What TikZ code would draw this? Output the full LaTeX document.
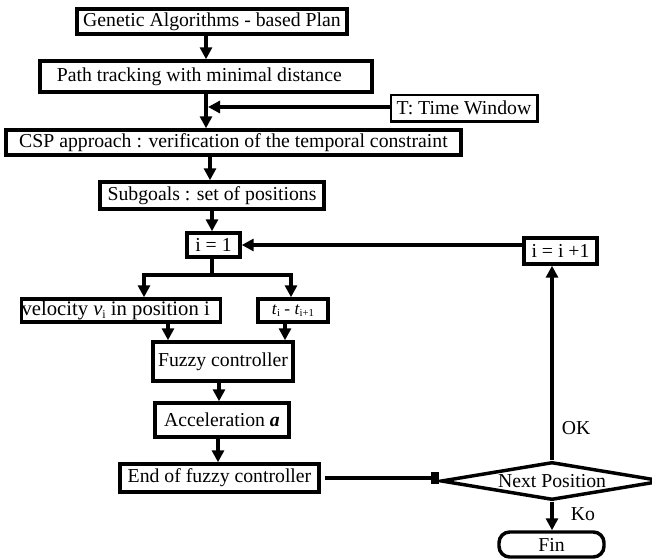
\documentclass[tikz,border=0pt]{standalone}
\usepackage{fontspec}
\setmainfont{Liberation Serif}
\usetikzlibrary{arrows.meta,shapes.geometric}
\begin{document}
\begin{tikzpicture}[x=0.75pt,y=-0.75pt,
  box/.style={draw,line width=2.6pt,inner sep=0pt,align=center,font=\fontsize{14.8}{17}\selectfont},
  arr/.style={line width=2.4pt,-{Triangle[length=9pt,width=9pt]}},
  ln/.style={line width=2.4pt},
  lbl/.style={font=\fontsize{14.8}{17}\selectfont}]
\useasboundingbox (0,0) rectangle (652,559);
\clip (0,0) rectangle (652,559);
% nodes
\node[box,minimum width=202.5pt,minimum height=18.75pt] (gen) at (212,21.5) {Genetic Algorithms - based Plan};
\node[box,minimum width=249pt,minimum height=23.25pt] (path) at (206,76.5) {\hspace*{-10pt}Path tracking with minimal distance};
\node[box,line width=1pt,minimum width=109.5pt,minimum height=19.5pt] (twin) at (464,108) {T: Time Window};
\draw[line width=2.6pt] (twin.north east) -- (twin.south east) -- (twin.south west);
\node[box,minimum width=341.25pt,minimum height=18.75pt] (csp) at (233.5,142.5) {CSP approach : verification of the temporal constraint};
\node[box,minimum width=168pt,minimum height=20.25pt] (sub) at (212,195.5) {Subgoals : set of positions};
\node[box,minimum width=39.75pt,minimum height=18pt] (i1) at (213.5,245) {i = 1};
\node[box,minimum width=54.75pt,minimum height=19.5pt] (iinc) at (560.5,251) {i = i +1};
\node[box,minimum width=148.5pt,minimum height=17.25pt,font=\fontsize{15.5}{17}\selectfont] (vel) at (121,310.5) {velocity \textit{v}\raisebox{-0.3ex}{\small i} in position i\hspace*{8pt}};
\node[box,minimum width=52.5pt,minimum height=17.25pt,font=\fontsize{13}{15}\selectfont] (tt) at (293,310.5) {\textit{t}\raisebox{-0.3ex}{\footnotesize i} - \textit{t}\raisebox{-0.3ex}{\footnotesize i+1}};
\node[box,minimum width=105pt,minimum height=29.25pt] (fuzzy) at (223,361.5) {Fuzzy controller};
\node[box,minimum width=100.5pt,minimum height=25.5pt] (acc) at (222,420) {Acceleration \textbf{\textit{a}}};
\node[box,minimum width=149.25pt,minimum height=21pt] (end) at (219.5,478) {End of fuzzy controller};
\node[box,shape=diamond,aspect=5.84,minimum width=166.5pt,minimum height=28.5pt] (dia) at (552,481) {Next Position};
\node[box,rounded corners=8pt,minimum width=78.75pt,minimum height=18.75pt] (fin) at (551.5,544.5) {Fin};
\node[lbl] (ok) at (576,428) {OK};
\node[lbl] (ko) at (583,514) {Ko};
% helper coordinates
\coordinate (c1) at (206,0);
\coordinate (c2) at (210,0);
\coordinate (c3) at (212,0);
\coordinate (j1) at (208,107);
\coordinate (s0) at (212,275);
\coordinate (sl) at (144,275);
\coordinate (sr) at (291,275);
\coordinate (c4) at (168,0);
\coordinate (c5) at (285,0);
\coordinate (c6) at (219,0);
\coordinate (c7) at (218,0);
% connectors
\draw[arr] (gen.south -| c1) -- (path.north -| c1);
\draw[arr] (path.south -| c1) -- (csp.north -| c1);
\draw[arr] (twin.west |- j1) -- (j1);
\draw[arr] (csp.south -| c2) -- (sub.north -| c2);
\draw[arr] (sub.south -| c3) -- (i1.north -| c3);
\draw[arr] (iinc.west |- i1.east) -- (i1.east);
\draw[ln] (i1.south -| s0) -- (s0);
\draw[ln,line cap=rect] (sl) -- (sr);
\draw[arr] (sl) -- (vel.north -| sl);
\draw[arr] (sr) -- (tt.north -| sr);
\draw[arr] (vel.south -| c4) -- (fuzzy.north -| c4);
\draw[arr] (tt.south -| c5) -- (fuzzy.north -| c5);
\draw[arr] (fuzzy.south -| c6) -- (acc.north -| c6);
\draw[arr] (acc.south -| c7) -- (end.north -| c7);
\draw[line width=2.4pt,-{Rectangle[length=6pt,width=9pt]}] ([xshift=3pt]end.east) -- (end.east -| dia.west);
\draw[arr] (dia.north) -- (iinc.south -| dia.north);
\draw[arr] (dia.south) -- (fin.north -| dia.south);
\end{tikzpicture}
\end{document}
